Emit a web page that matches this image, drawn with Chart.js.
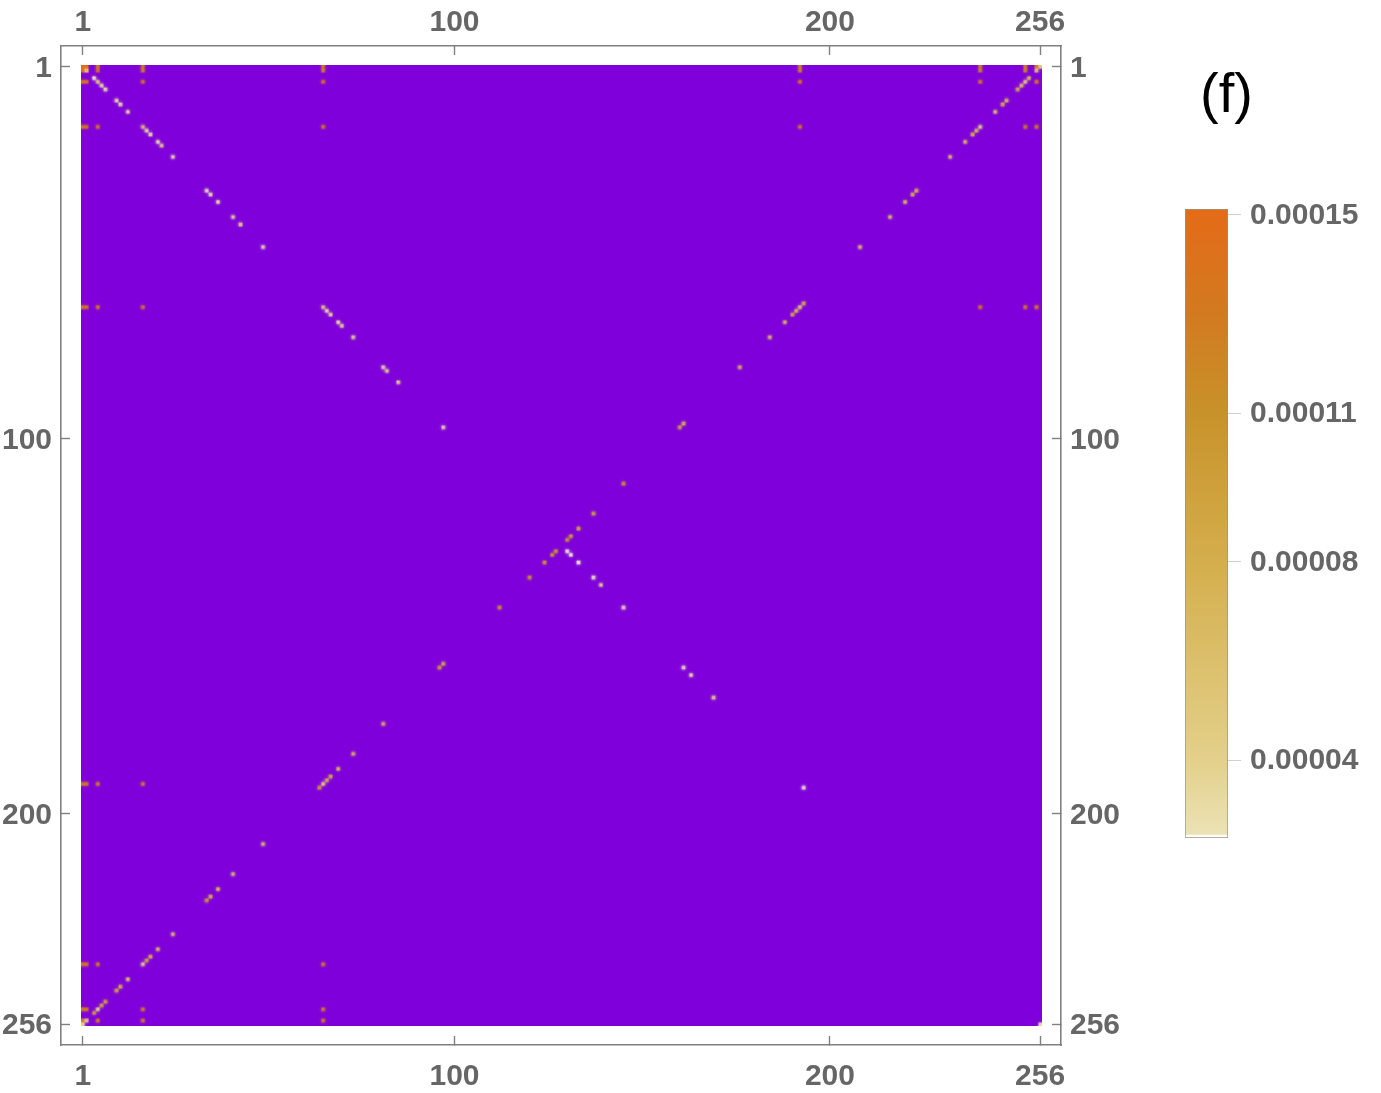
<!DOCTYPE html>
<html><head><meta charset="utf-8">
<script src="https://cdn.jsdelivr.net/npm/chart.js@4"></script>
<style>
html,body{margin:0;padding:0;background:#fff;width:1381px;height:1093px;overflow:hidden}
canvas{position:absolute;display:block}
#label{position:absolute;left:1200px;top:58px;font:56px "Liberation Sans",sans-serif;color:#000;line-height:70px}
</style></head><body>
<canvas id="matrix" width="1381" height="1093" style="left:0;top:0"></canvas>
<canvas id="bar" width="211" height="683" style="left:1170px;top:182px"></canvas>
<div id="label">(f)</div>
<script>
const axisTicks=[1,100,200,256];
const matrixSize=256;
const backgroundColor='#7F00DB';

const diagIdx=[2,4,5,6,7,10,11,13,17,18,19,21,22,25,34,35,37,41,43,49,65,66,67,69,70,73,81,82,85,97,130,131,133,137,139,145,161,163,169,193,256];
const diagVal=[4.5e-5,2.2e-5,5e-5,3e-5,2.5e-5,3e-5,3e-5,3.5e-5,6e-5,3e-5,3e-5,3e-5,4e-5,3e-5,2.5e-5,3e-5,3e-5,3.5e-5,4e-5,3e-5,5e-5,3e-5,3.5e-5,3e-5,4e-5,3.5e-5,3e-5,4e-5,4e-5,3e-5,2e-5,2e-5,2e-5,2.2e-5,4e-5,2.5e-5,2.5e-5,3e-5,4e-5,2e-5,3e-5];

const antiCols=[253,252,251,250,247,246,244,240,239,238,236,232,223,222,220,216,208,193,192,191,190,188,184,176,161,160,145,137,133,131,130,127,126,124,120,112,97,96,81,73,69,67,66,65,64,49,41,37,35,34,25,21,19,18,17,13,11,10,7,6,5,4];
const antiRows=[4,5,6,7,10,11,13,17,18,19,21,25,34,35,37,41,49,64,65,66,67,69,73,81,96,97,112,120,124,126,127,130,131,133,137,145,160,161,176,184,188,190,191,192,193,208,216,220,222,223,232,236,238,239,240,244,246,247,250,251,252,253];
const antiVal=[7e-5,5e-5,6e-5,8e-5,7e-5,8e-5,6e-5,4e-5,7e-5,8e-5,7e-5,6e-5,7e-5,8e-5,7e-5,6e-5,6e-5,8e-5,5e-5,7e-5,9e-5,7e-5,6e-5,7e-5,7e-5,9e-5,1e-4,9e-5,9e-5,1e-4,1.05e-4,1e-4,1.05e-4,1.05e-4,1.05e-4,1.05e-4,8e-5,1e-4,7e-5,7e-5,7e-5,8e-5,8e-5,4e-5,1e-4,6e-5,6e-5,7e-5,8e-5,1e-4,6e-5,7e-5,8e-5,9e-5,4e-5,6e-5,8e-5,9e-5,9e-5,9e-5,4e-5,1e-4];

const offCols=[1,2,5,17,65,192,240,252, 1,2,5,17,65,192,240,252, 255,256,255, 1,2,17,65,192,240,255, 1,2,5,65,192,252,255, 1,2,5,17,240,252,255, 1,2,5,17, 1,2,5,65, 1,2,17,65, 1,2,5,17,65, 1];
const offRows=[1,1,1,1,1,1,1,1, 2,2,2,2,2,2,2,2, 1,1,2, 5,5,5,5,5,5,5, 17,17,17,17,17,17,17, 65,65,65,65,65,65,65, 192,192,192,192, 240,240,240,240, 252,252,252,252, 255,255,255,255,255, 256];
const offVal=[1.5e-4,1.5e-4,1.35e-4,1.35e-4,1.35e-4,1.35e-4,1.35e-4,1.35e-4, 1.5e-4,4e-5,1.35e-4,1.2e-4,1.2e-4,1.2e-4,1.2e-4,1.2e-4, 1.4e-4,4.5e-5,5e-5, 1.4e-4,1.3e-4,1.35e-4,1.35e-4,1.35e-4,1.35e-4,1.35e-4, 1.35e-4,1.3e-4,1.3e-4,1.3e-4,1.3e-4,1.3e-4,1.3e-4, 1.35e-4,1.3e-4,1.3e-4,1.3e-4,1.3e-4,1.3e-4,1.3e-4, 1.3e-4,1.25e-4,1.25e-4,1.25e-4, 1.3e-4,1.25e-4,1.25e-4,1.25e-4, 1.3e-4,1.25e-4,1.25e-4,1.25e-4, 1.3e-4,3.5e-5,1.25e-4,1.25e-4,1.25e-4, 3.5e-5];

const rampValues=[1e-5,2.5e-5,4e-5,8e-5,1.1e-4,1.3e-4,1.5e-4];
const rampColors=[[255,255,255],[235,226,181],[227,208,138],[212,174,76],[200,146,42],[210,122,32],[227,108,24]];
const colorTicks=[1.5e-4,1.1e-4,8e-5,4e-5];
const colorTickLabels=['0.00015','0.00011','0.00008','0.00004'];
const colorMin=2.43e-5, colorMax=1.512e-4;

function rampColor(v){
  if(v<=rampValues[0])return 'rgb('+rampColors[0].join(',')+')';
  for(let i=1;i<rampValues.length;i++){
    if(v<=rampValues[i]){
      const t=(v-rampValues[i-1])/(rampValues[i]-rampValues[i-1]);
      const a=rampColors[i-1],b=rampColors[i];
      return 'rgb('+a.map((c,k)=>Math.round(c+(b[k]-c)*t)).join(',')+')';
    }
  }
  return 'rgb('+rampColors[rampColors.length-1].join(',')+')';
}

const cells=[];
diagIdx.forEach((d,i)=>cells.push({x:d,y:d,v:diagVal[i]}));
antiCols.forEach((c,i)=>cells.push({x:c,y:antiRows[i],v:antiVal[i]}));
offCols.forEach((c,i)=>cells.push({x:c,y:offRows[i],v:offVal[i]}));

const axisColor='#808080', textColor='#666666';
const tickFont={family:'"Liberation Sans"',size:30,weight:'bold'};
const TL=-9;
const CELL=961/256;

function axis(position,min,max,size,reverse,pad,labelOffset){
  return {
    type:'linear',position,min,max,reverse,
    afterBuildTicks(s){s.ticks=axisTicks.map(value=>({value}));},
    afterFit(s){ if(s.isHorizontal())s.height=size; else s.width=size; },
    border:{display:true,color:axisColor,width:1.6},
    grid:{display:true,drawOnChartArea:false,drawTicks:true,tickLength:TL,tickColor:axisColor,tickWidth:1.4},
    ticks:{color:textColor,font:tickFont,padding:pad,labelOffset,autoSkip:false,maxRotation:0,includeBounds:false,callback:v=>String(v)}
  };
}
const xMin=0.5-20/CELL,xMax=256.5+19/CELL,yMin=0.5-19/CELL,yMax=256.5+19/CELL;

function matrixBox(chart){
  const {x,y}=chart.scales;
  const l=x.getPixelForValue(0.5),r=x.getPixelForValue(matrixSize+0.5);
  const t=y.getPixelForValue(0.5),b=y.getPixelForValue(matrixSize+0.5);
  return {l,t,w:r-l,h:b-t};
}
const matrixBg={
  id:'matrixBg',
  beforeDatasetsDraw(chart){
    const c=chart.ctx,{l,t,w,h}=matrixBox(chart);
    c.save();c.fillStyle=backgroundColor;c.fillRect(l,t,w,h);c.restore();
    c.save();c.beginPath();c.rect(l,t,w,h);c.clip();
  },
  // the heat map is resampled smoothly, as the original image is
  afterDatasetsDraw(chart){
    const c=chart.ctx;c.restore();
    const {l,t,w,h}=matrixBox(chart);
    const n=matrixSize*2;
    const off=document.createElement('canvas');
    off.width=off.height=n;
    const o=off.getContext('2d');
    o.imageSmoothingEnabled=true;o.imageSmoothingQuality='high';
    o.drawImage(chart.canvas,l,t,w,h,0,0,n,n);
    c.save();c.imageSmoothingEnabled=true;c.imageSmoothingQuality='low';
    c.drawImage(off,0,0,n,n,l,t,w,h);c.restore();
  }
};

new Chart(document.getElementById('matrix'),{
  type:'scatter',
  data:{datasets:[{
    data:cells,
    pointStyle:'rect',
    borderWidth:0,
    pointBorderWidth:0,
    pointRadius(ctx){
      const s=ctx.chart.scales.x;
      return 1.12*Math.abs(s.getPixelForValue(1)-s.getPixelForValue(0))/Math.SQRT2;
    },
    pointBackgroundColor(ctx){return ctx.raw?rampColor(ctx.raw.v):'#000';},
    clip:false
  }]},
  options:{
    responsive:false,animation:false,events:[],
    layout:{autoPadding:false,padding:0},
    plugins:{legend:{display:false},tooltip:{enabled:false},title:{display:false}},
    scales:{
      x:axis('bottom',xMin,xMax,48,false,23,0),
      x2:axis('top',xMin,xMax,46,false,14,0),
      y:axis('left',yMin,yMax,61,true,18,2),
      y2:axis('right',yMin,yMax,320,true,18,2)
    }
  },
  plugins:[matrixBg]
});

new Chart(document.getElementById('bar'),{
  type:'bar',
  data:{labels:['scale'],datasets:[{
    data:[[colorMin,colorMax]],
    backgroundColor(ctx){
      const a=ctx.chart.chartArea;
      if(!a)return '#ccc';
      const s=ctx.chart.scales.y;
      const g=ctx.chart.ctx.createLinearGradient(0,a.bottom,0,a.top);
      const pos=v=>Math.min(1,Math.max(0,(a.bottom-s.getPixelForValue(v))/(a.bottom-a.top)));
      g.addColorStop(0,'#ffffff');g.addColorStop(0.004,'#ffffff');g.addColorStop(0.006,rampColor(2.5e-5));
      rampValues.slice(2).forEach((v,i)=>g.addColorStop(pos(v),rampColor(v)));
      g.addColorStop(1,rampColor(1.5e-4));
      return g;
    },
    borderColor:'rgba(120,110,90,0.75)',borderWidth:1,borderSkipped:false,
    categoryPercentage:1,barPercentage:1
  }]},
  options:{
    responsive:false,animation:false,events:[],
    layout:{autoPadding:false,padding:{left:15,top:0,bottom:0,right:0}},
    plugins:{legend:{display:false},tooltip:{enabled:false}},
    scales:{
      x:{display:false},
      y:{
        position:'right',min:colorMin,max:colorMax,
        afterBuildTicks(s){s.ticks=colorTicks.map(value=>({value}));},
        afterFit(s){s.width=153;},
        border:{display:false},
        grid:{drawOnChartArea:false,drawTicks:true,tickLength:13,tickColor:'#d0d0d0',tickWidth:1},
        ticks:{color:textColor,font:tickFont,padding:9,labelOffset:1,autoSkip:false,maxRotation:0,includeBounds:false,
          callback:v=>colorTickLabels[colorTicks.indexOf(v)]}
      }
    }
  }
});
</script>
</body></html>
